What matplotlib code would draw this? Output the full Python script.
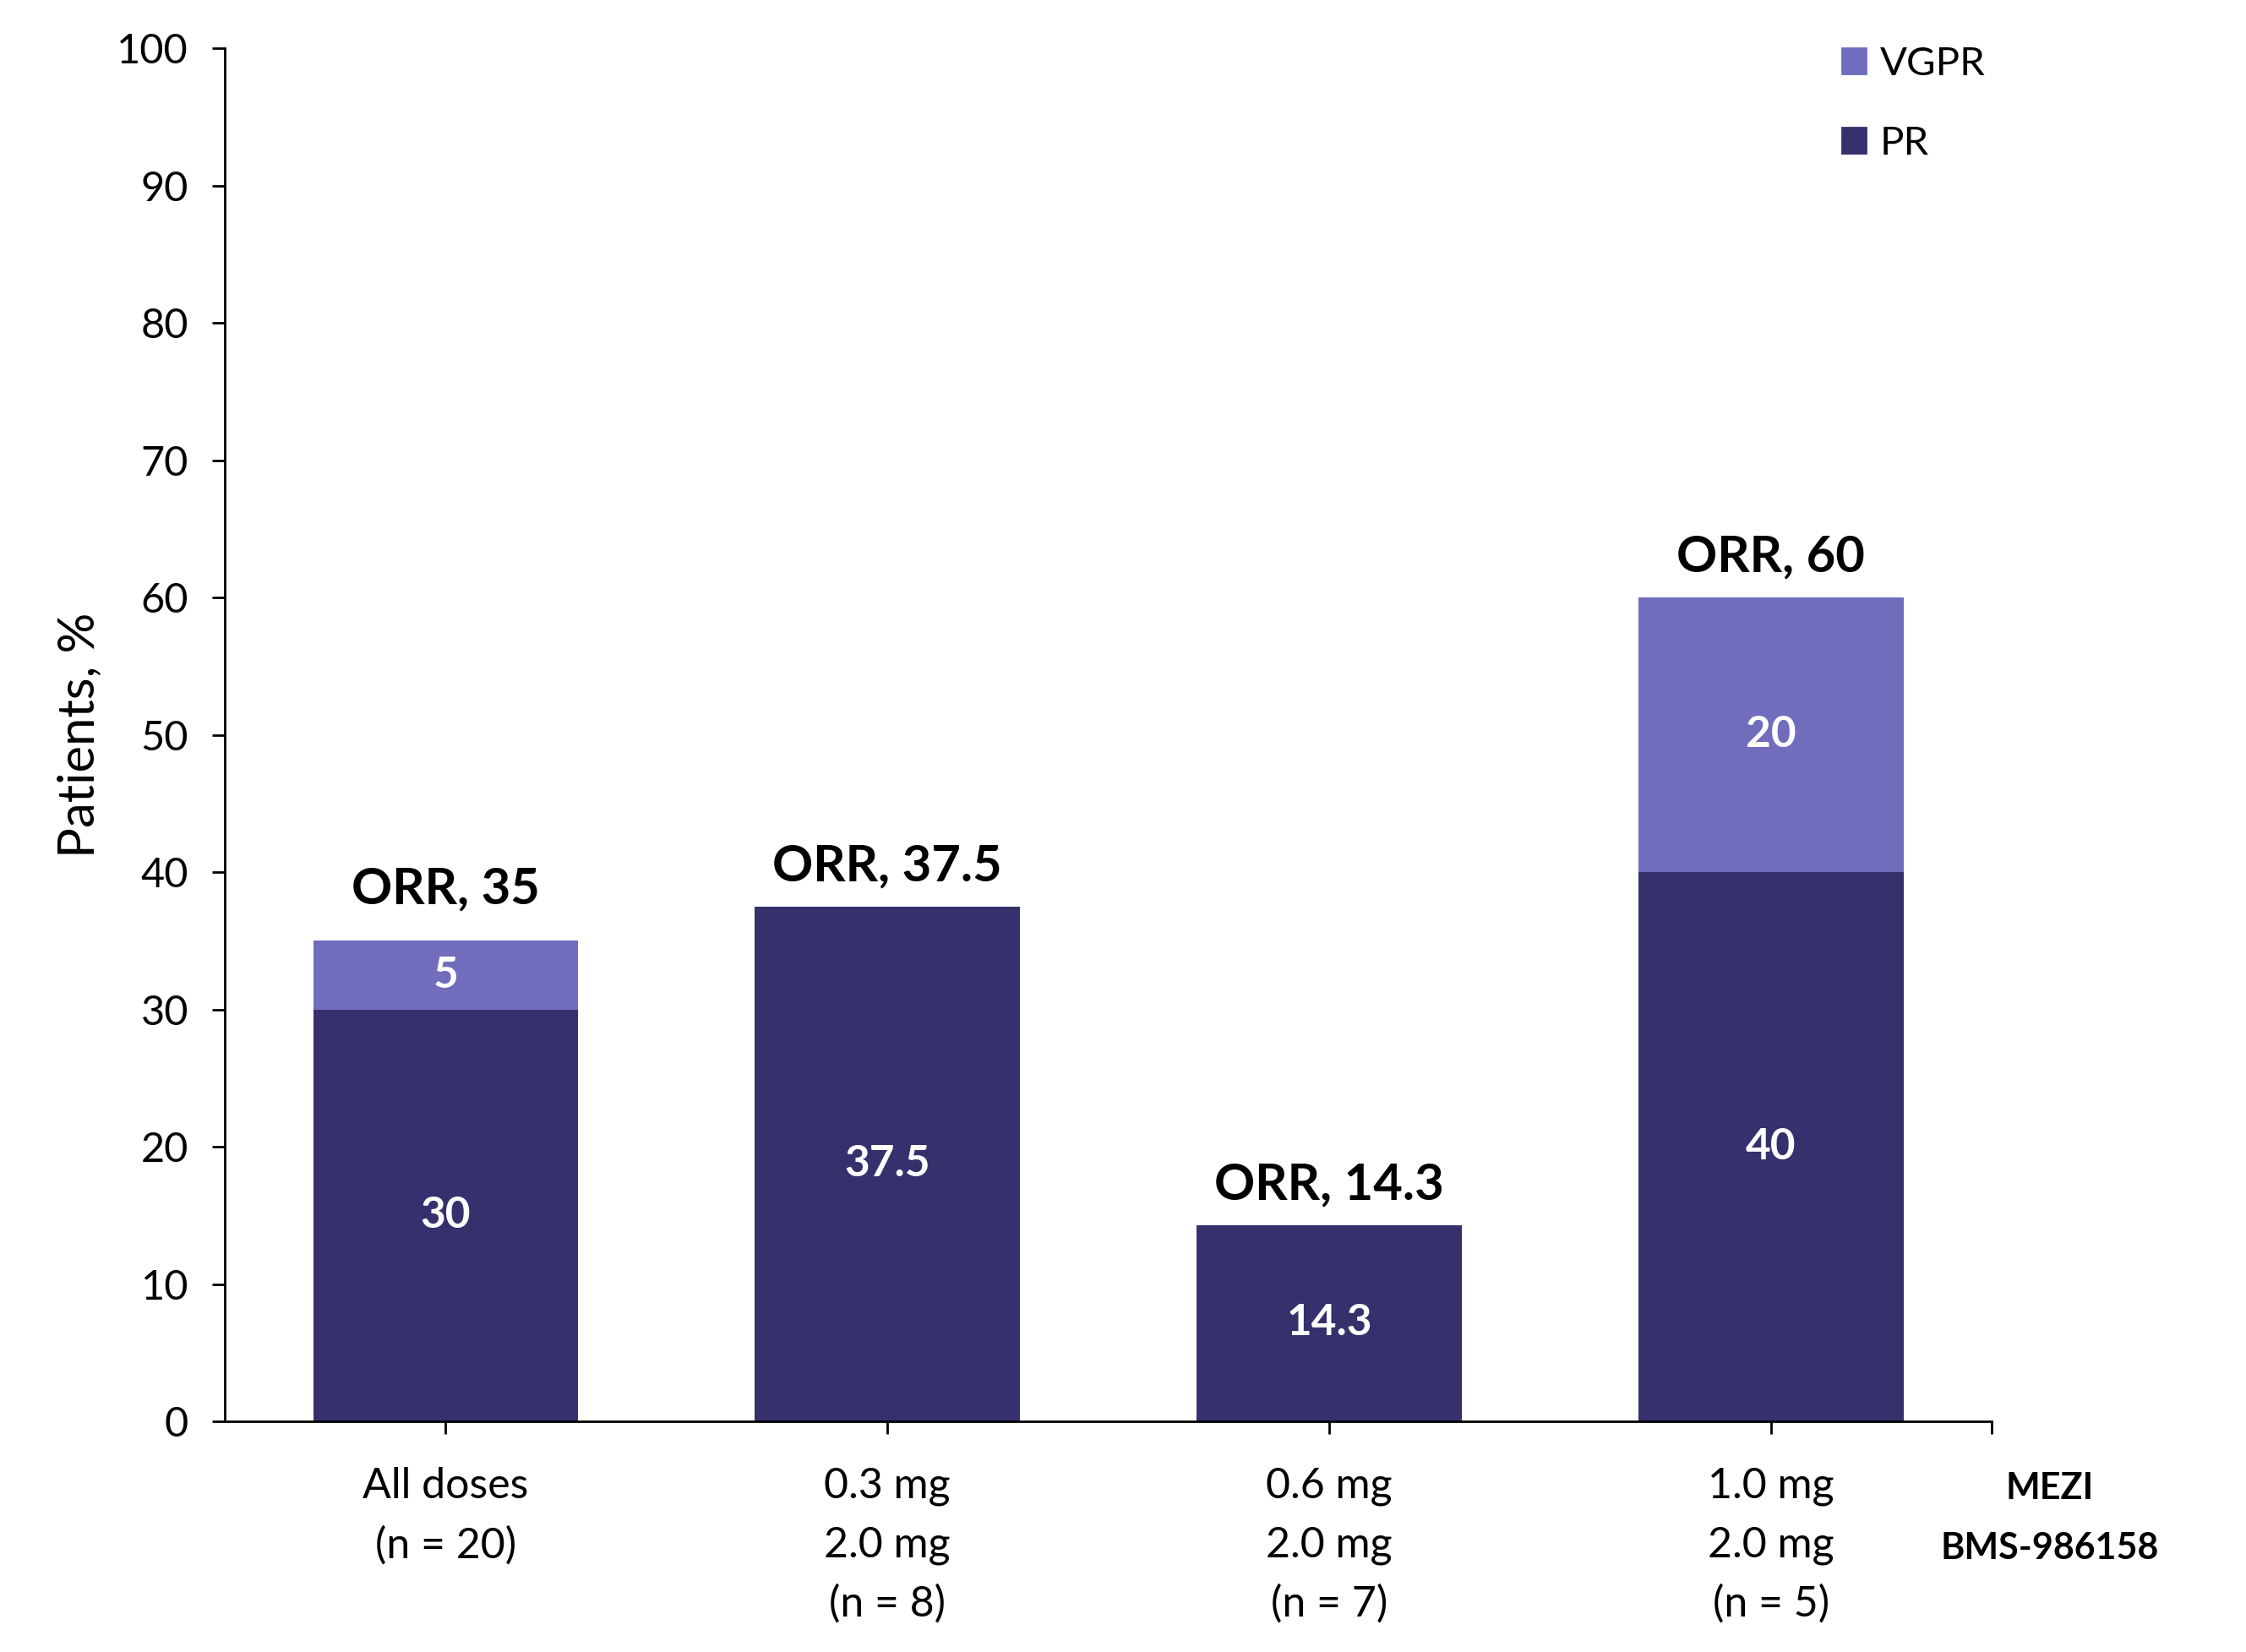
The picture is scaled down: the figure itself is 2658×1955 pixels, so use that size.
import numpy as np
import matplotlib
matplotlib.use("Agg")
import matplotlib.pyplot as plt
from matplotlib.patches import Patch

plt.rcParams['font.family'] = ['Lato', 'DejaVu Sans']

categories = ['All doses\n(n = 20)', '0.3 mg\n2.0 mg\n(n = 8)', '0.6 mg\n2.0 mg\n(n = 7)', '1.0 mg\n2.0 mg\n(n = 5)']
pr = [30, 37.5, 14.3, 40]
vgpr = [5, 0, 0, 20]
orr = ['35', '37.5', '14.3', '60']
pr_labels = ['30', '37.5', '14.3', '40']
vgpr_labels = ['5', '', '', '20']

pr_color = '#35316c'
vgpr_color = '#716dbd'
# ORR label gap above each bar (points)
orr_offsets = [16, 11, 11, 11]

fig = plt.figure(figsize=(13.29, 9.775), dpi=200)
ax = fig.add_axes([0.1001, 0.1396, 0.7867, 0.8310])

x = np.arange(len(categories))
ax.bar(x, pr, width=0.6, color=pr_color, label='PR')
ax.bar(x, vgpr, width=0.6, bottom=pr, color=vgpr_color, label='VGPR')

for i in range(len(categories)):
    ax.text(x[i], pr[i] / 2, pr_labels[i], ha='center', va='center',
            color='white', fontsize=18.5, fontweight='bold')
    if vgpr[i] > 0:
        ax.text(x[i], pr[i] + vgpr[i] / 2, vgpr_labels[i], ha='center', va='center',
                color='white', fontsize=18.5, fontweight='bold')
    ax.annotate('ORR, ' + orr[i], (x[i], pr[i] + vgpr[i]), xytext=(0, orr_offsets[i]),
                textcoords='offset points', ha='center', va='baseline',
                fontsize=21.5, fontweight='bold')

ax.set_xlim(-0.5, 3.5)
ax.set_ylim(0, 100)
ax.set_yticks(np.arange(0, 101, 10))
ax.set_xticks(list(x) + [3.5])
ax.set_xticklabels(categories + [''], linespacing=1.62)

for side in ['top', 'right']:
    ax.spines[side].set_visible(False)
for side in ['left', 'bottom']:
    ax.spines[side].set_linewidth(1.0)

ax.tick_params(axis='y', labelsize=17.5, length=5.5, width=1.0, pad=10)
ax.tick_params(axis='x', labelsize=18, length=5.5, width=1.0, pad=14)
ax.set_ylabel('Patients, %', fontsize=21.5, labelpad=6)

fig.text(0.9127, 0.081, 'MEZI\nBMS-986158', ha='center', va='center',
         fontsize=15.5, fontweight='bold', linespacing=1.95)

handles = [Patch(color=vgpr_color, label='VGPR'), Patch(color=pr_color, label='PR')]
ax.legend(handles=handles, loc='upper left', bbox_to_anchor=(0.820, 0.972),
          bbox_transform=fig.transFigure, frameon=False, fontsize=17,
          handlelength=0.6, handleheight=0.6, handletextpad=0.35,
          labelspacing=1.1, borderpad=0, borderaxespad=0)

fig.savefig('out.png', dpi=200)
